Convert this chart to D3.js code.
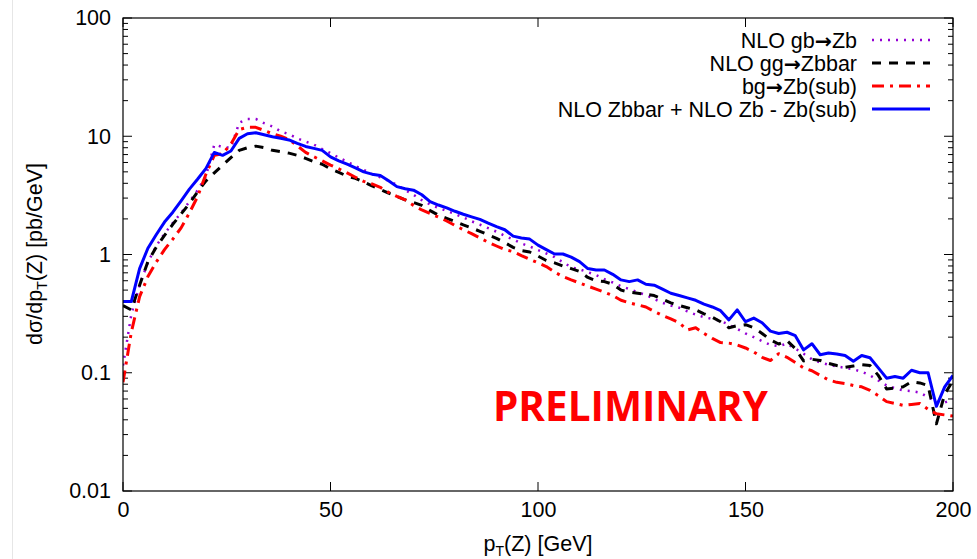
<!DOCTYPE html>
<html><head><meta charset="utf-8">
<script src="https://cdn.jsdelivr.net/npm/d3@7"></script>
<style>body{margin:0;background:#fff}svg{display:block}</style>
</head><body>
<svg id="c" width="977" height="559"></svg>
<script>
// pT grid (GeV)
const pT = d3.range(0, 201, 2);
const gbZb = [0.115,0.31,0.55,0.86,1.18,1.5,1.85,2.25,2.8,3.5,4.6,8.5,8.1,8.0,13.0,14.0,14.0,12.9,12.1,11.0,10.4,9.6,9.0,8.5,7.8,7.2,6.6,6.1,5.6,5.2,4.8,4.5,4.2,3.88,3.5,3.2,2.88,2.65,2.48,2.34,2.2,2.06,1.91,1.79,1.67,1.56,1.44,1.34,1.24,1.17,1.09,1.02,0.95,0.86,0.78,0.75,0.71,0.67,0.62,0.58,0.54,0.51,0.48,0.455,0.42,0.39,0.37,0.355,0.33,0.31,0.295,0.285,0.275,0.255,0.235,0.215,0.2,0.185,0.172,0.168,0.176,0.16,0.145,0.13,0.122,0.117,0.113,0.11,0.107,0.102,0.095,0.086,0.078,0.074,0.071,0.07,0.068,0.062,0.057,0.056,0.06];
const ggZbbar = [0.37,0.34,0.55,0.87,1.15,1.45,1.8,2.2,2.7,3.4,4.2,4.9,5.7,6.6,7.6,8.0,8.25,8.0,7.6,7.4,7.2,6.9,6.5,6.1,5.8,5.3,4.95,4.6,4.4,4.1,3.8,3.55,3.3,3.1,2.9,2.75,2.6,2.35,2.15,2.02,1.9,1.78,1.68,1.57,1.47,1.37,1.26,1.15,1.08,1.05,0.97,0.89,0.85,0.8,0.76,0.72,0.64,0.6,0.59,0.56,0.5,0.48,0.47,0.46,0.45,0.42,0.39,0.37,0.355,0.34,0.315,0.295,0.27,0.24,0.25,0.255,0.24,0.215,0.19,0.175,0.187,0.16,0.126,0.13,0.127,0.12,0.115,0.111,0.114,0.117,0.115,0.095,0.073,0.074,0.076,0.084,0.082,0.078,0.037,0.066,0.086];
const bgZbSub = [0.083,0.22,0.44,0.65,0.86,1.1,1.35,1.68,2.25,3.1,4.8,6.9,7.1,8.6,11.4,11.9,11.9,11.2,10.5,10.0,9.4,8.3,7.3,6.7,6.2,5.7,5.3,4.9,4.5,4.15,3.95,3.7,3.35,3.1,2.9,2.6,2.38,2.22,2.07,1.92,1.76,1.62,1.5,1.38,1.27,1.18,1.1,1.06,0.98,0.91,0.85,0.79,0.71,0.65,0.61,0.575,0.54,0.51,0.48,0.45,0.41,0.39,0.375,0.36,0.33,0.305,0.285,0.265,0.23,0.24,0.215,0.195,0.18,0.178,0.172,0.162,0.15,0.135,0.127,0.145,0.135,0.122,0.11,0.104,0.095,0.087,0.083,0.081,0.078,0.076,0.071,0.064,0.057,0.055,0.053,0.054,0.055,0.049,0.045,0.044,0.043];
const combined = [0.40,0.40,0.76,1.13,1.47,1.88,2.28,2.84,3.57,4.35,5.35,7.3,6.9,7.5,9.6,10.5,10.7,10.3,9.9,9.6,9.3,8.7,8.2,7.9,7.6,6.7,6.2,5.8,5.4,5.0,4.78,4.65,4.2,3.75,3.6,3.5,3.2,2.8,2.62,2.48,2.32,2.19,2.08,1.98,1.84,1.72,1.62,1.43,1.38,1.35,1.2,1.1,1.01,1.01,0.95,0.87,0.76,0.74,0.74,0.68,0.61,0.59,0.61,0.56,0.55,0.51,0.47,0.45,0.43,0.41,0.38,0.36,0.335,0.28,0.34,0.27,0.29,0.265,0.225,0.215,0.22,0.206,0.156,0.176,0.142,0.147,0.144,0.14,0.125,0.14,0.134,0.11,0.09,0.093,0.09,0.105,0.10,0.10,0.052,0.076,0.095];

const seriesNames = [["NLO gb","\u2192","Zb"],["NLO gg","\u2192","Zbbar"],["bg","\u2192","Zb(sub)"],["NLO Zbbar + NLO Zb - Zb(sub)"]];
const seriesValues = [gbZb, ggZbbar, bgZbSub, combined];
const xTicks = [0,50,100,150,200];
const yTicks = [0.01,0.1,1,10,100];
const yTickLabels = ["0.01","0.1","1","10","100"];

const styles = [
  {color:"#9400d3", dash:"2,6", width:2.5},
  {color:"#000000", dash:"9,8", width:3},
  {color:"#ff0000", dash:"12,6,3,6", width:3},
  {color:"#0000ff", dash:null, width:3}
];

const svg = d3.select("#c");
const L=123, R=953, T=18, B=491;
const x = d3.scaleLinear().domain([0,200]).range([L,R]);
const y = d3.scaleLog().domain([0.01,100]).range([B,T]);

svg.append("line").attr("x1",12.5).attr("x2",12.5).attr("y1",0).attr("y2",559).attr("stroke","#e6e6e6");

const font = "'Liberation Sans', Arial, Helvetica, sans-serif";
const FS = 21.5;

const minor = [];
for (let e=-2;e<2;e++) for (let k=2;k<=9;k++) minor.push(k*Math.pow(10,e));
const g = svg.append("g").attr("stroke","#000").attr("stroke-width",1);
yTicks.forEach(v=>{
  g.append("line").attr("x1",L).attr("x2",L+9).attr("y1",y(v)).attr("y2",y(v));
  g.append("line").attr("x1",R).attr("x2",R-9).attr("y1",y(v)).attr("y2",y(v));
});
minor.forEach(v=>{
  g.append("line").attr("x1",L).attr("x2",L+5).attr("y1",y(v)).attr("y2",y(v));
  g.append("line").attr("x1",R).attr("x2",R-5).attr("y1",y(v)).attr("y2",y(v));
});
xTicks.forEach(v=>{
  g.append("line").attr("x1",x(v)).attr("x2",x(v)).attr("y1",B).attr("y2",B-9);
  g.append("line").attr("x1",x(v)).attr("x2",x(v)).attr("y1",T).attr("y2",T+9);
});
const yAxis = d3.axisLeft(y).tickValues(yTicks).tickFormat((d,i)=>yTickLabels[i]).tickSize(0).tickPadding(12);
const ya = svg.append("g").attr("transform",`translate(${L},0)`).call(yAxis);
ya.select(".domain").remove();
ya.selectAll("text").attr("font-family",font).attr("font-size",FS).attr("fill","#000");
const xAxis = d3.axisBottom(x).tickValues(xTicks).tickFormat(d3.format("d")).tickSize(0).tickPadding(11);
const xa = svg.append("g").attr("transform",`translate(0,${B})`).call(xAxis);
xa.select(".domain").remove();
xa.selectAll("text").attr("font-family",font).attr("font-size",FS).attr("fill","#000");

svg.append("clipPath").attr("id","clip").append("rect").attr("x",L).attr("y",T).attr("width",R-L).attr("height",B-T);

const line = d3.line().x((d,i)=>x(pT[i])).y(d=>y(d));
const lines = svg.append("g").attr("clip-path","url(#clip)");
seriesValues.forEach((vals,i)=>{
  const s = styles[i];
  const p = lines.append("path").datum(vals).attr("d",line).attr("fill","none")
    .attr("stroke",s.color).attr("stroke-width",s.width).attr("stroke-linejoin","round");
  if (s.dash) p.attr("stroke-dasharray",s.dash);
});

svg.append("rect").attr("x",L).attr("y",T).attr("width",R-L).attr("height",B-T).attr("fill","none").attr("stroke","#000").attr("stroke-width",1.2);

// legend
const legY = [40,63,86,109];
seriesNames.forEach((parts,i)=>{
  const s = styles[i];
  const t = svg.append("text").attr("x",857).attr("y",legY[i]).attr("dy","0.36em").attr("text-anchor","end")
    .attr("font-family",font).attr("font-size",FS).attr("fill","#000");
  parts.forEach(p=>{
    const ts = t.append("tspan").text(p);
    if (p==="\u2192") ts.attr("font-family","'DejaVu Sans', sans-serif").attr("font-weight","bold").attr("font-size",FS*0.95);
  });
  const l = svg.append("line").attr("x1",872).attr("x2",930).attr("y1",legY[i]).attr("y2",legY[i])
    .attr("stroke",s.color).attr("stroke-width",s.width);
  if (s.dash) l.attr("stroke-dasharray",s.dash);
});

// axis titles
const yl = svg.append("text").attr("transform","translate(42,254) rotate(-90)").attr("text-anchor","middle")
  .attr("font-family",font).attr("font-size",FS).attr("fill","#000");
yl.append("tspan").text("d\u03c3/dp");
yl.append("tspan").attr("font-size",14).attr("dy",5).text("T");
yl.append("tspan").attr("dy",-5).text("(Z) [pb/GeV]");
const xl = svg.append("text").attr("x",538).attr("y",551).attr("text-anchor","middle")
  .attr("font-family",font).attr("font-size",FS).attr("fill","#000");
xl.append("tspan").text("p");
xl.append("tspan").attr("font-size",14).attr("dy",5).text("T");
xl.append("tspan").attr("dy",-5).text("(Z) [GeV]");

svg.append("text").attr("x",493).attr("y",421)
  .attr("font-family","'Open Sans', sans-serif").attr("font-weight","bold").attr("font-size",42)
  .attr("textLength",275).attr("lengthAdjust","spacingAndGlyphs")
  .attr("fill","#ff0000").text("PRELIMINARY");
</script>
</body></html>
